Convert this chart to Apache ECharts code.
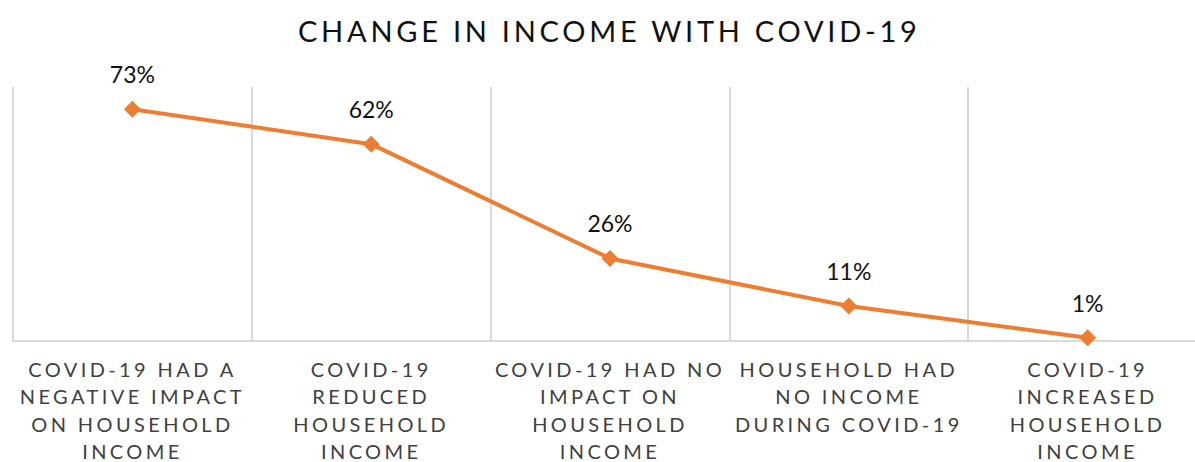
<!DOCTYPE html>
<html>
<head>
<meta charset="utf-8">
<script src="https://cdn.jsdelivr.net/npm/echarts@6/dist/echarts.min.js"></script>
<style>
  html, body { margin: 0; padding: 0; background: #fff; }
  #chart { width: 1195px; height: 462px; }
</style>
</head>
<body>
<div id="chart"></div>
<script>
// Share of households by how COVID-19 affected their income
const categories = [
  'COVID-19 HAD A\nNEGATIVE IMPACT\nON HOUSEHOLD\nINCOME',
  'COVID-19\nREDUCED\nHOUSEHOLD\nINCOME',
  'COVID-19 HAD NO\nIMPACT ON\nHOUSEHOLD\nINCOME',
  'HOUSEHOLD HAD\nNO INCOME\nDURING COVID-19',
  'COVID-19\nINCREASED\nHOUSEHOLD\nINCOME'
];
const shares = [73, 62, 26, 11, 1];
const titleText = 'CHANGE IN INCOME WITH COVID-19';

const FONT = 'Lato, "Open Sans", sans-serif';
const chart = echarts.init(document.getElementById('chart'), null, { renderer: 'svg' });

chart.setOption({
  animation: false,
  backgroundColor: '#ffffff',
  title: {
    text: titleText,
    left: 293,
    top: 11,
    textStyle: { fontFamily: FONT, fontSize: 29, fontWeight: 'normal', color: '#111111' }
  },
  grid: {
    left: 13, right: -12, top: 87, bottom: 121,
    containLabel: false,
    outerBoundsMode: 'none'
  },
  xAxis: {
    type: 'category',
    data: categories,
    boundaryGap: true,
    axisLine: { show: true, lineStyle: { color: '#d9d9d9', width: 2 } },
    axisTick: { show: false },
    splitLine: { show: true, lineStyle: { color: '#d9d9d9', width: 2 } },
    axisLabel: {
      interval: 0,
      margin: 14,
      fontFamily: FONT,
      fontSize: 20,
      lineHeight: 27.5,
      color: '#404040',
      align: 'center'
    }
  },
  yAxis: {
    type: 'value',
    min: 0,
    max: 80,
    show: false,
    splitLine: { show: false }
  },
  series: [{
    type: 'line',
    data: shares,
    symbol: 'diamond',
    symbolSize: 17,
    lineStyle: { color: '#ED7D31', width: 4 },
    itemStyle: { color: '#ED7D31' },
    label: {
      show: true,
      position: 'top',
      distance: 15,
      formatter: p => p.value + '%',
      fontFamily: FONT,
      fontSize: 23,
      color: '#111111'
    }
  }]
});

// Spread the capital lettering out the way the original typography does
function spaceLetters() {
  document.querySelectorAll('#chart svg text').forEach(el => {
    const size = parseFloat(getComputedStyle(el).fontSize);
    if (size === 20) el.style.letterSpacing = '3.4px';
    else if (size === 29) el.style.letterSpacing = '3.75px';
  });
}
spaceLetters();
chart.on('finished', spaceLetters);
</script>
</body>
</html>
